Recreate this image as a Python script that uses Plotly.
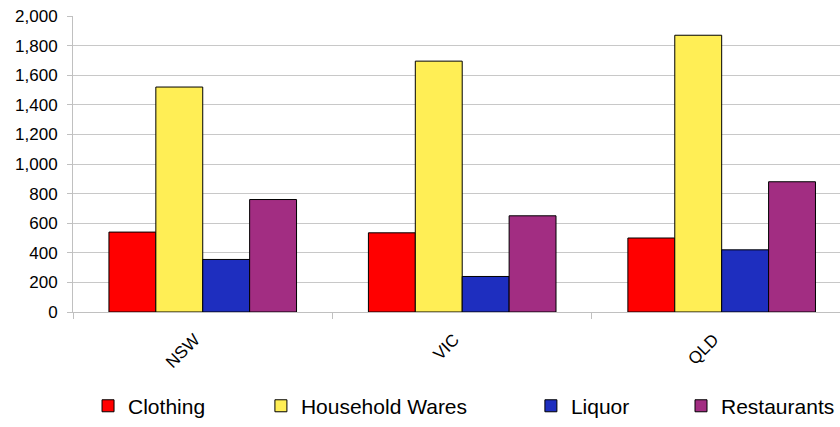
import plotly.graph_objects as go

# Regional spending by category
states = ["NSW", "VIC", "QLD"]
clothing = [540, 535, 500]
household_wares = [1520, 1695, 1870]
liquor = [355, 240, 420]
restaurants = [760, 650, 880]

series_names = ["Clothing", "Household Wares", "Liquor", "Restaurants"]
series_values = [clothing, household_wares, liquor, restaurants]
series_colors = ["#FF0000", "#FFEE55", "#1E2EBF", "#A22D82"]

y_ticks = list(range(0, 2001, 200))

# one legend per series so each entry can be placed on its own
legend_ids = ["legend", "legend2", "legend3", "legend4"]
legend_x = [0.0196, 0.245, 0.597, 1.0]
legend_anchor = ["left", "left", "left", "right"]

FONT = "Liberation Sans, Arial, sans-serif"

fig = go.Figure()
for name, vals, color, lid in zip(series_names, series_values, series_colors, legend_ids):
    fig.add_trace(go.Bar(
        name=name,
        x=states,
        y=vals,
        marker=dict(color=color, line=dict(color="#000000", width=1)),
        legend=lid,
    ))

legend_common = dict(
    orientation="h",
    yanchor="middle",
    y=-0.318,
    font=dict(family=FONT, size=21, color="#000000"),
    bgcolor="rgba(0,0,0,0)",
    itemwidth=30,
)

layout_legends = {}
for lid, lx, anc in zip(legend_ids, legend_x, legend_anchor):
    layout_legends[lid] = dict(legend_common, x=lx, xanchor=anc)

fig.update_layout(
    width=840,
    height=427,
    margin=dict(l=73, r=0, t=16, b=113),
    paper_bgcolor="#FFFFFF",
    plot_bgcolor="#FFFFFF",
    barmode="group",
    bargap=0.277,
    bargroupgap=0,
    showlegend=True,
    font=dict(family=FONT, size=17, color="#000000"),
    xaxis=dict(
        range=[-0.5, 2.456],
        tickangle=-45,
        tickson="boundaries",
        ticks="outside",
        ticklen=6,
        tickcolor="#C0C0C0",
        showgrid=False,
        showline=True,
        linecolor="#C0C0C0",
        linewidth=1,
        tickfont=dict(size=17),
        ticklabelstandoff=10,
        ticklabelshift=-8,
    ),
    yaxis=dict(
        range=[0, 2000],
        tickvals=y_ticks,
        tickformat=",",
        ticks="outside",
        ticklen=5,
        tickcolor="#C0C0C0",
        showgrid=True,
        gridcolor="#C8C8C8",
        gridwidth=1,
        showline=True,
        linecolor="#C0C0C0",
        linewidth=1,
        zeroline=False,
        tickfont=dict(size=17),
        ticklabelstandoff=6,
    ),
    **layout_legends,
)

fig.write_html("out.html")
